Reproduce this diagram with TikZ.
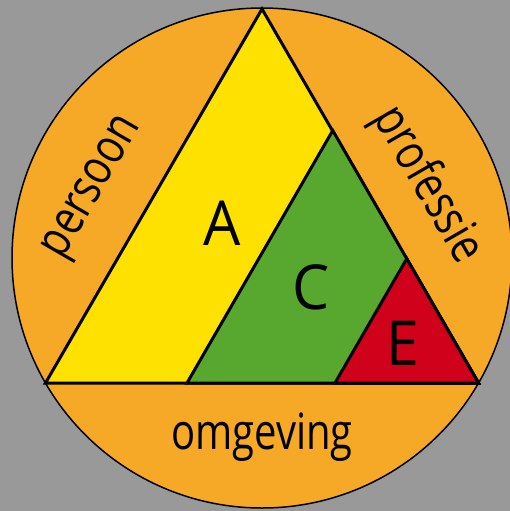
\documentclass[tikz,border=0pt]{standalone}
\usepackage{fontspec}
\setmainfont{Open Sans}
\definecolor{bg}{HTML}{999999}
\definecolor{orng}{HTML}{F6A926}
\definecolor{yel}{HTML}{FFE100}
\definecolor{grn}{HTML}{58A72F}
\definecolor{rd}{HTML}{D0021B}
\tikzset{
  tri/.style={draw=black, line width=3pt, line join=miter},
  big/.style={font=\fontsize{62}{62}\selectfont, inner sep=0pt, anchor=center},
  ring/.style={font=\fontsize{50}{50}\selectfont, inner sep=0pt, anchor=center}
}
\newcommand{\nar}[1]{\scalebox{0.8}[1]{#1}}
\begin{document}
\begin{tikzpicture}[x=1pt,y=-1pt]
\fill[bg] (0,0) rectangle (510,511);
\useasboundingbox (0,0) rectangle (510,511);
\coordinate (O) at (262,258);
\fill[orng, draw=black, line width=1.5pt] (O) circle[radius=250];
\coordinate (T) at (262,9);
\coordinate (L) at (45.5,383);
\coordinate (R) at (478.5,383);
\coordinate (GL) at (187,383);
\coordinate (GT) at (332.75,130.5);
\coordinate (RL) at (335,383);
\coordinate (RT) at (406.75,258.7);
\filldraw[tri, fill=yel] (T) -- (L) -- (R) -- cycle;
\filldraw[tri, fill=grn] (GT) -- (GL) -- (R) -- cycle;
\filldraw[tri, fill=rd] (RT) -- (RL) -- (R) -- cycle;
\node[big] (a) at (222,223) {\scalebox{0.95}[1]{A}};
\node[big] (c) at (311,287) {\scalebox{0.95}[1]{C}};
\node[big] (e) at (403,343) {\scalebox{0.95}[1]{E}};
\node[ring] (om) at (262,437) {\nar{omgeving}};
\node[ring, rotate=60] (pe) at (95,189) {\nar{persoon}};
\node[ring, rotate=-60] (pr) at (427,185) {\nar{professie}};
\end{tikzpicture}
\end{document}
